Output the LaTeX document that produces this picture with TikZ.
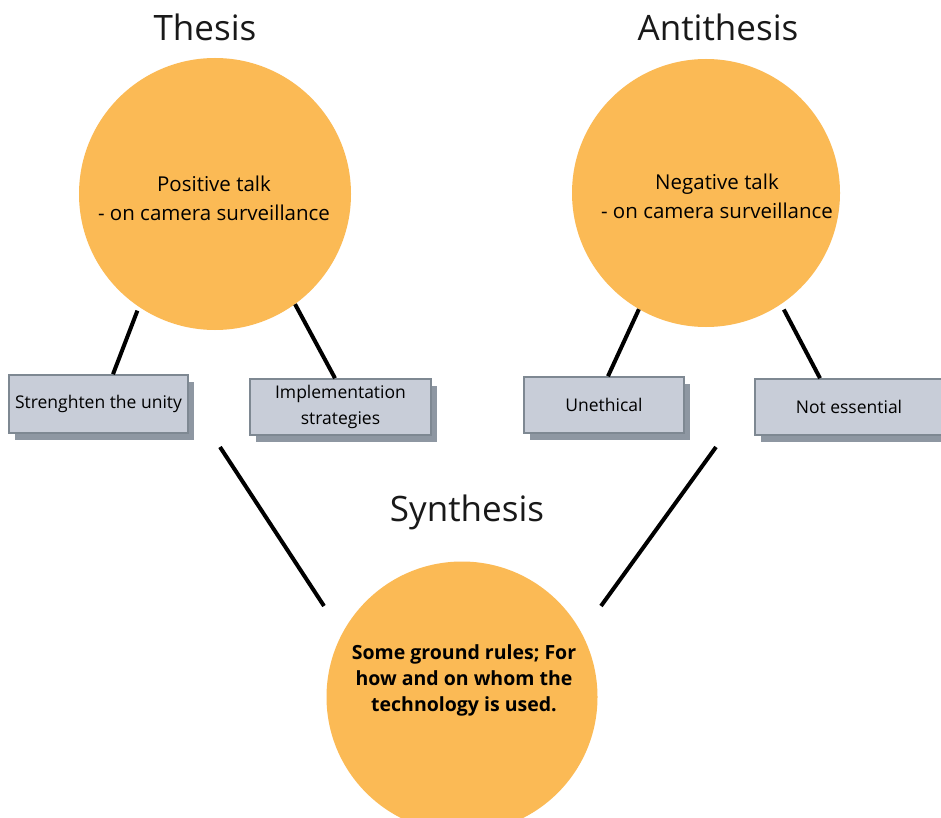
\documentclass[tikz,border=0pt]{standalone}
\usepackage{fontspec}
\setmainfont{Open Sans}
\usetikzlibrary{shadows}
\definecolor{sunorange}{HTML}{FBBA55}
\definecolor{boxfill}{HTML}{C8CDD8}
\definecolor{boxedge}{HTML}{7E8892}
\definecolor{boxshade}{HTML}{8E97A2}
\tikzset{
  bigcircle/.style={circle, fill=sunorange, draw=none, minimum size=272pt, inner sep=0pt},
  heading/.style={font=\fontsize{35}{40}\selectfont, text=black!90, inner sep=0pt},
  circletext/.style={font=\fontsize{20.5}{29}\selectfont, align=center, inner sep=0pt},
  boldtext/.style={font=\bfseries\fontsize{19.5}{26}\selectfont, align=center, inner sep=0pt},
  itembox/.style={rectangle, fill=boxfill, draw=boxedge, line width=1.6pt,
    font=\fontsize{17.5}{26}\selectfont, align=center, inner sep=0pt,
    drop shadow={shadow xshift=6pt, shadow yshift=-7pt, fill=boxshade, opacity=1}},
  link/.style={line width=4pt, black}
}
\begin{document}
\begin{tikzpicture}[x=1pt, y=-1pt]
  \useasboundingbox (0,0) rectangle (941,818);
  \fill[white] (0,0) rectangle (941,818);

  % headings
  \node[heading] (hthesis) at (205,27) {Thesis};
  \node[heading] (hanti) at (718,27) {Antithesis};
  \node[heading] (hsyn) at (467,512) {Synthesis};

  % circles
  \node[bigcircle] (thesis) at (215,194) {};
  \node[circletext] (thesistxt) at (214,198) {Positive talk\\- on camera surveillance};
  \node[bigcircle, minimum size=268pt] (anti) at (706,193) {};
  \node[circletext] (antitxt) at (717,196) {Negative talk\\- on camera surveillance};
  \node[bigcircle, minimum size=271pt] (syn) at (462,697) {};
  \node[boldtext] (syntxt) at (464,680) {Some ground rules; For\\how and on whom the\\technology is used.};

  % argument boxes
  \node[itembox, minimum width=179pt, minimum height=58pt] (box1) at (98.5,404) {Strenghten the unity};
  \node[itembox, minimum width=181pt, minimum height=56pt] (box2) at (340.5,407) {Implementation\\strategies};
  \node[itembox, minimum width=160pt, minimum height=56pt] (box3) at (604,405) {Unethical};
  \node[itembox, minimum width=188pt, minimum height=56pt] (box4) at (849,407) {Not essential};

  % connectors from the circles to their boxes
  \draw[link, shorten <=4pt] (thesis.236) -- ([xshift=14.5pt]box1.north);
  \draw[link] (thesis.306) -- ([xshift=-5.5pt]box2.north);
  \draw[link] (anti.240) -- ([xshift=4pt]box3.north);
  \draw[link, shorten <=6pt] (anti.304) -- ([xshift=-29pt]box4.north);

  % lines leading down towards the synthesis
  \coordinate (leftA) at (220,447);
  \coordinate (leftB) at (324,606);
  \coordinate (rightA) at (716,447);
  \coordinate (rightB) at (601,606);
  \draw[link] (leftA) -- (leftB);
  \draw[link] (rightA) -- (rightB);
\end{tikzpicture}
\end{document}
